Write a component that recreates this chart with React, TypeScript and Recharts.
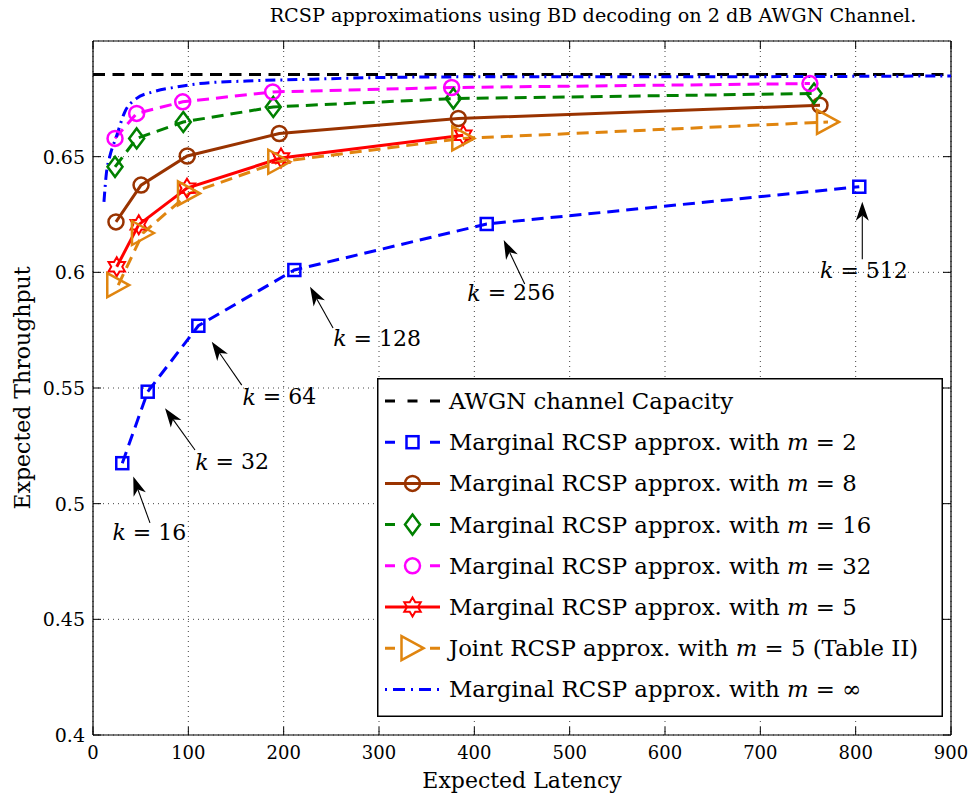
import React from "react";
import {
  LineChart,
  Line,
  XAxis,
  YAxis,
  CartesianGrid,
  ReferenceLine,
  ReferenceDot,
  Legend,
} from "recharts";

// AWGN capacity reference
const capLatency = [0, 900];
const capThroughput = [0.6855, 0.6855];

// Marginal RCSP, m = 2 (one point per k)
const m2Latency = [30.7, 57.4, 110.5, 211.2, 413.0, 803.8];
const m2Throughput = [0.5175, 0.5484, 0.5769, 0.601, 0.6209, 0.637];

// Marginal RCSP, m = 8
const m8Latency = [24.1, 50.4, 98.9, 195.4, 383.2, 762.6];
const m8Throughput = [0.6218, 0.6377, 0.6503, 0.66, 0.6665, 0.6722];

// Marginal RCSP, m = 16
const m16Latency = [23.1, 45.8, 94.7, 189.1, 378.0, 756.3];
const m16Throughput = [0.6456, 0.6579, 0.665, 0.6715, 0.6751, 0.6773];

// Marginal RCSP, m = 32
const m32Latency = [23.1, 45.8, 94.1, 188.5, 376.2, 752.0];
const m32Throughput = [0.6579, 0.6687, 0.6737, 0.678, 0.6799, 0.6816];

// Marginal RCSP, m = 5
const m5Latency = [24.9, 48.0, 98.6, 197.2, 388.4];
const m5Throughput = [0.6024, 0.6206, 0.6364, 0.6494, 0.6593];

// Joint RCSP, m = 5 (Table II)
const joint5Latency = [26.5, 52.4, 100.7, 195.4, 388.4, 771.0];
const joint5Throughput = [0.5945, 0.617, 0.6341, 0.6478, 0.6579, 0.665];

// Marginal RCSP, m = infinity
const infLatency = [11.5, 14.0, 17.5, 24.4, 33.3, 45.4, 62.9, 87.3, 111.9, 161.2, 231.1, 297.6, 392.0, 573.8, 900];
const infThroughput = [
  0.6305, 0.6427, 0.6499, 0.6585, 0.6693, 0.6751, 0.678, 0.6801, 0.6816, 0.6827, 0.6835, 0.6842, 0.6845,
  0.6845, 0.6849,
];

// block lengths annotated on the m = 2 curve
const kValues = [16, 32, 64, 128, 256, 512];

const xTicks = [0, 100, 200, 300, 400, 500, 600, 700, 800, 900];
const yTicks = [0.4, 0.45, 0.5, 0.55, 0.6, 0.65];

const FONT = '"DejaVu Serif", "Liberation Serif", serif';
const W = 974;
const H = 797;
const PLOT = { left: 93, right: 951, top: 41, bottom: 735 };

const zip = (xs: number[], ys: number[]) => xs.map((x, i) => ({ latency: x, throughput: ys[i] }));

type Shape = "square" | "circle" | "diamond" | "hexagram" | "triangle" | null;

const mathLabel = (m: string, tail = "") => (
  <>
    {"Marginal RCSP approx. with "}
    <tspan fontStyle="italic">m</tspan>
    {" = " + m + tail}
  </>
);

const SERIES = [
  {
    id: "cap",
    data: zip(capLatency, capThroughput),
    color: "#000000",
    dash: "12 7.5",
    legendDash: "10 12.5",
    marker: null as Shape,
    label: <>AWGN channel Capacity</>,
  },
  {
    id: "m2",
    data: zip(m2Latency, m2Throughput),
    color: "#0000ff",
    dash: "12 7",
    legendDash: "10 35",
    marker: "square" as Shape,
    label: mathLabel("2"),
  },
  {
    id: "m8",
    data: zip(m8Latency, m8Throughput),
    color: "#993300",
    dash: undefined,
    legendDash: undefined,
    marker: "circle" as Shape,
    label: mathLabel("8"),
  },
  {
    id: "m16",
    data: zip(m16Latency, m16Throughput),
    color: "#008000",
    dash: "12 7",
    legendDash: "10 35",
    marker: "diamond" as Shape,
    label: mathLabel("16"),
  },
  {
    id: "m32",
    data: zip(m32Latency, m32Throughput),
    color: "#ff00ff",
    dash: "12 7",
    legendDash: "10 35",
    marker: "circle" as Shape,
    label: mathLabel("32"),
  },
  {
    id: "m5",
    data: zip(m5Latency, m5Throughput),
    color: "#ff0000",
    dash: undefined,
    legendDash: undefined,
    marker: "hexagram" as Shape,
    label: mathLabel("5"),
  },
  {
    id: "joint5",
    data: zip(joint5Latency, joint5Throughput),
    color: "#e0850f",
    dash: "12 7",
    legendDash: "10 35",
    marker: "triangle" as Shape,
    label: (
      <>
        {"Joint RCSP approx. with "}
        <tspan fontStyle="italic">m</tspan>
        {" = 5 (Table II)"}
      </>
    ),
  },
  {
    id: "inf",
    data: zip(infLatency, infThroughput),
    color: "#0000ff",
    dash: "10 5 2 5",
    legendDash: "2 6 12 6",
    marker: null as Shape,
    label: mathLabel("\u221e"),
  },
];

function Marker({ shape, cx, cy, color }: { shape: Shape; cx: number; cy: number; color: string }) {
  const common = { fill: "none", stroke: color, strokeWidth: 2.5 };
  switch (shape) {
    case "square":
      return <rect x={cx - 6} y={cy - 6} width={12} height={12} {...common} />;
    case "circle":
      return <circle cx={cx} cy={cy} r={7.5} {...common} />;
    case "diamond":
      return <polygon points={`${cx},${cy - 10} ${cx + 7.5},${cy} ${cx},${cy + 10} ${cx - 7.5},${cy}`} {...common} />;
    case "triangle":
      return <polygon points={`${cx + 11},${cy} ${cx - 11},${cy - 12} ${cx - 11},${cy + 12}`} {...common} />;
    case "hexagram": {
      const pts: string[] = [];
      for (let i = 0; i < 12; i++) {
        const a = ((-90 + i * 30) * Math.PI) / 180;
        const r = i % 2 === 0 ? 9.5 : 5.5;
        pts.push(`${cx + r * Math.cos(a)},${cy + r * Math.sin(a)}`);
      }
      return <polygon points={pts.join(" ")} {...common} strokeWidth={2} />;
    }
    default:
      return null;
  }
}

// pixel offsets of arrow tip, arrow tail and label centre from each annotated marker
const ARROWS = [
  { tip: [11, 13.4], tail: [27.7, 59.7], label: [27, 69] },
  { tip: [17.3, 16.6], tail: [47.3, 58.3], label: [84.3, 70] },
  { tip: [13.4, 16], tail: [43.4, 59.3], label: [81, 71] },
  { tip: [15.7, 16.7], tail: [38.7, 58], label: [82.7, 68] },
  { tip: [17, 16], tail: [38, 60], label: [24.5, 69] },
  { tip: [3, 15], tail: [3, 72.6], label: [4.7, 83.3] },
];

function Annotation({ cx, cy, k, idx }: { cx: number; cy: number; k: number; idx: number }) {
  const a = ARROWS[idx];
  const tx = cx + a.tip[0];
  const ty = cy + a.tip[1];
  const sx = cx + a.tail[0];
  const sy = cy + a.tail[1];
  const len = Math.hypot(tx - sx, ty - sy);
  const ux = (tx - sx) / len;
  const uy = (ty - sy) / len;
  const L = 19;
  const hw = 6.5;
  const bx = tx - ux * L;
  const by = ty - uy * L;
  const nx = tx - ux * L * 0.72;
  const ny = ty - uy * L * 0.72;
  const head = `${tx},${ty} ${bx - uy * hw},${by + ux * hw} ${nx},${ny} ${bx + uy * hw},${by - ux * hw}`;
  return (
    <g>
      <line x1={sx} y1={sy} x2={nx} y2={ny} stroke="#000" strokeWidth={1.1} />
      <polygon points={head} fill="#000" />
      <text
        x={cx + a.label[0]}
        y={cy + a.label[1]}
        textAnchor="middle"
        dominantBaseline="central"
        fontFamily={FONT}
        fontSize={22}
      >
        <tspan fontStyle="italic">k</tspan>
        {" = " + k}
      </text>
    </g>
  );
}

const XTick = ({ x, payload }: any) => (
  <g>
    <line x1={x} x2={x} y1={PLOT.bottom} y2={PLOT.bottom - 8} stroke="#000" />
    <line x1={x} x2={x} y1={PLOT.top} y2={PLOT.top + 8} stroke="#000" />
    <text x={x} y={PLOT.bottom + 17} textAnchor="middle" dominantBaseline="central" fontFamily={FONT} fontSize={18}>
      {payload.value}
    </text>
  </g>
);

const YTick = ({ y, payload }: any) => (
  <g>
    <line x1={PLOT.left} x2={PLOT.left + 8} y1={y} y2={y} stroke="#000" />
    <line x1={PLOT.right} x2={PLOT.right - 8} y1={y} y2={y} stroke="#000" />
    <text x={PLOT.left - 8} y={y} textAnchor="end" dominantBaseline="central" fontFamily={FONT} fontSize={19}>
      {payload.value}
    </text>
  </g>
);

const renderLegend = () => (
  <svg width={566} height={339} style={{ display: "block" }}>
    <rect x={0.75} y={0.75} width={564.5} height={337.5} fill="#fff" stroke="#000" strokeWidth={1.5} />
    {SERIES.map((s, i) => {
      const y = 23 + i * 41.2;
      return (
        <g key={s.id}>
          <line x1={8} x2={63} y1={y} y2={y} stroke={s.color} strokeWidth={3} strokeDasharray={s.legendDash} />
          {s.marker && <Marker shape={s.marker} cx={35.5} cy={y} color={s.color} />}
          <text x={72} y={y} dominantBaseline="central" fontFamily={FONT} fontSize={22.8}>
            {s.label}
          </text>
        </g>
      );
    })}
  </svg>
);

export default function App() {
  return (
    <div style={{ position: "absolute", left: 0, top: 0, width: W, height: H, background: "#fff" }}>
      <LineChart width={W} height={H} margin={{ top: PLOT.top, right: W - PLOT.right, bottom: 0, left: 0 }}>
        <CartesianGrid stroke="#444" strokeDasharray="1 4" />
        <XAxis
          dataKey="latency"
          type="number"
          domain={[0, 900]}
          ticks={xTicks}
          height={H - PLOT.bottom}
          tickSize={0}
          tick={<XTick />}
          axisLine={{ stroke: "#000", strokeWidth: 1.2 }}
          allowDataOverflow
        />
        <YAxis
          type="number"
          domain={[0.4, 0.7]}
          ticks={yTicks}
          width={PLOT.left}
          tickSize={0}
          tick={<YTick />}
          axisLine={{ stroke: "#000", strokeWidth: 1.2 }}
          allowDataOverflow
        />
        <ReferenceLine y={0.7} stroke="#000" strokeWidth={1.2} />
        <ReferenceLine x={900} stroke="#000" strokeWidth={1.2} />
        {SERIES.map((s) => (
          <Line
            key={s.id}
            data={s.data}
            dataKey="throughput"
            type={s.id === "inf" ? "monotone" : "linear"}
            stroke={s.color}
            strokeWidth={3}
            strokeDasharray={s.dash}
            isAnimationActive={false}
            dot={
              s.marker
                ? (p: any) => <Marker key={`${s.id}-${p.index}`} shape={s.marker} cx={p.cx} cy={p.cy} color={s.color} />
                : false
            }
            activeDot={false}
          />
        ))}
        {kValues.map((k, i) => (
          <ReferenceDot
            key={`k-${k}`}
            x={m2Latency[i]}
            y={m2Throughput[i]}
            r={0}
            shape={(p: any) => <Annotation cx={p.cx} cy={p.cy} k={k} idx={i} />}
          />
        ))}
        <Legend
          layout="vertical"
          align="center"
          verticalAlign="middle"
          content={renderLegend}
          wrapperStyle={{ position: "absolute", left: 377, top: 378, width: 566, height: 339 }}
        />
        <text x={593} y={15} textAnchor="middle" dominantBaseline="central" fontFamily={FONT} fontSize={19.2}>
          RCSP approximations using BD decoding on 2 dB AWGN Channel.
        </text>
        <text
          x={(PLOT.left + PLOT.right) / 2}
          y={780}
          textAnchor="middle"
          dominantBaseline="central"
          fontFamily={FONT}
          fontSize={22}
        >
          Expected Latency
        </text>
        <text
          x={22}
          y={(PLOT.top + PLOT.bottom) / 2}
          transform={`rotate(-90, 22, ${(PLOT.top + PLOT.bottom) / 2})`}
          textAnchor="middle"
          dominantBaseline="central"
          fontFamily={FONT}
          fontSize={22}
        >
          Expected Throughput
        </text>
      </LineChart>
    </div>
  );
}
